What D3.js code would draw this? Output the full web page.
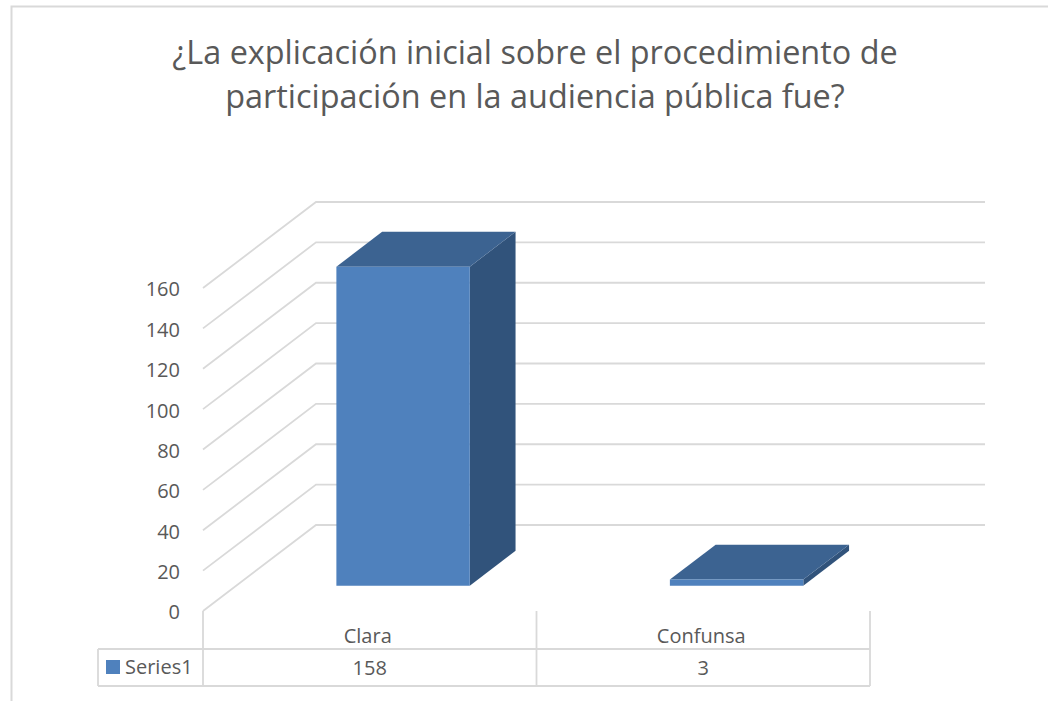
<!DOCTYPE html>
<html>
<head>
<meta charset="utf-8">
<script src="https://cdn.jsdelivr.net/npm/d3@7"></script>
<style>
	html, body { margin: 0; padding: 0; background: #fff; }
	svg { display: block; }
	text { font-family: "Open Sans", sans-serif; fill: #595959; }
	.grid { fill: none; stroke: #d9d9d9; stroke-width: 1.8px; }
</style>
</head>
<body>
<svg id="chart" width="1048" height="701"></svg>
<script>
var titleLines = ["¿La explicación inicial sobre el procedimiento de", "participación en la audiencia pública fue?"];
var categories = ["Clara", "Confunsa"];
var seriesName = "Series1";
var seriesValues = [158, 3];
var yTicks = [0, 20, 40, 60, 80, 100, 120, 140, 160];

var svg = d3.select("#chart");

//outer frame of the chart, runs off the page on the right and bottom
svg.append("path").attr("d", "M11.5,701V6.5H1048").attr("fill", "none")
	.attr("stroke", "#d9d9d9").attr("stroke-width", 2);

//title
svg.append("g").selectAll("text").data(titleLines).enter().append("text")
	.attr("x", 535).attr("y", function(d, i) { return 63.5 + i * 44.5; })
	.attr("text-anchor", "middle").style("font-size", "32.4px")
	.text(function(d) { return d; });

//front plane scales
var y = d3.scaleLinear().domain([0, 160]).range([611, 288]);
var x = d3.scaleBand().domain(categories).range([203, 870]);
//position inside a category band
var barX = d3.scaleBand().domain(["bar"]).range([0, x.bandwidth()]).paddingInner(0).paddingOuter(0.75);

//depth: 0 is the front of the floor, 1 the back wall
var depthX = d3.scaleLinear().domain([0, 1]).range([0, 113]);
var depthY = d3.scaleLinear().domain([0, 1]).range([0, -86]);
var wallRight = 985;
var barDepth = [0.295, 0.70];

//gridlines
svg.append("g").selectAll("path").data(yTicks).enter().append("path")
	.attr("class", "grid")
	.attr("d", function(d) {
		var p = d3.path();
		p.moveTo(x.range()[0], y(d));
		p.lineTo(x.range()[0] + depthX(1), y(d) + depthY(1));
		p.lineTo(wallRight, y(d) + depthY(1));
		return p.toString();
	});

//y axis labels
var yAxis = svg.append("g").attr("transform", "translate(180,1.5)")
	.call(d3.axisLeft(y).tickValues(yTicks).tickSize(0).tickPadding(0));
yAxis.select(".domain").remove();
yAxis.selectAll("text").style("font-size", "20px");

//3d bars
var bars = svg.append("g").selectAll("g").data(categories).enter().append("g");

function corners(cat, i) {
	var x0 = x(cat) + barX("bar") + depthX(barDepth[0]);
	var x1 = x0 + barX.bandwidth();
	var y0 = y(0) + depthY(barDepth[0]);
	var y1 = y(seriesValues[i]) + depthY(barDepth[0]);
	var dx = depthX(barDepth[1] - barDepth[0]);
	var dy = depthY(barDepth[1] - barDepth[0]);
	return { x0: x0, x1: x1, y0: y0, y1: y1, dx: dx, dy: dy };
}

//right side
bars.append("path").attr("fill", "#31537b").attr("d", function(d, i) {
	var c = corners(d, i);
	return "M" + [c.x1, c.y0] + "L" + [c.x1, c.y1] + "L" + [c.x1 + c.dx, c.y1 + c.dy] + "L" + [c.x1 + c.dx, c.y0 + c.dy] + "Z";
});
//top
bars.append("path").attr("fill", "#3c6391").attr("d", function(d, i) {
	var c = corners(d, i);
	return "M" + [c.x0, c.y1] + "L" + [c.x0 + c.dx, c.y1 + c.dy] + "L" + [c.x1 + c.dx, c.y1 + c.dy] + "L" + [c.x1, c.y1] + "Z";
});
//front
bars.append("path").attr("fill", "#4f81bd").attr("d", function(d, i) {
	var c = corners(d, i);
	return "M" + [c.x0, c.y0] + "L" + [c.x0, c.y1] + "L" + [c.x1, c.y1] + "L" + [c.x1, c.y0] + "Z";
});

//data table
var tableLeft = 98, rowTop = 649, rowBottom = 686;
var table = svg.append("g").attr("stroke", "#d9d9d9").attr("stroke-width", 1.8).attr("fill", "none");
table.append("path").attr("d", "M" + tableLeft + "," + rowTop + "H" + x.range()[1] + "M" + tableLeft + "," + rowBottom + "H" + x.range()[1] + "M" + tableLeft + "," + rowTop + "V" + rowBottom);
table.selectAll(".sep").data([203, 536.5, 870]).enter().append("path").attr("class", "sep")
	.attr("d", function(d) { return "M" + d + "," + y(0) + "V" + rowBottom; });

svg.append("rect").attr("x", 106).attr("y", 660).attr("width", 14).attr("height", 14).attr("fill", "#4f81bd");
svg.append("text").attr("x", 125).attr("y", 674).style("font-size", "20px").text(seriesName);

svg.append("g").selectAll("text").data(categories).enter().append("text")
	.attr("x", function(d) { return x(d) + x.bandwidth() / 2 - 2; }).attr("y", 643)
	.attr("text-anchor", "middle").style("font-size", "20px")
	.text(function(d) { return d; });

svg.append("g").selectAll("text").data(seriesValues).enter().append("text")
	.attr("x", function(d, i) { return x(categories[i]) + x.bandwidth() / 2; }).attr("y", 675)
	.attr("text-anchor", "middle").style("font-size", "20px")
	.text(function(d) { return d; });
</script>
</body>
</html>
